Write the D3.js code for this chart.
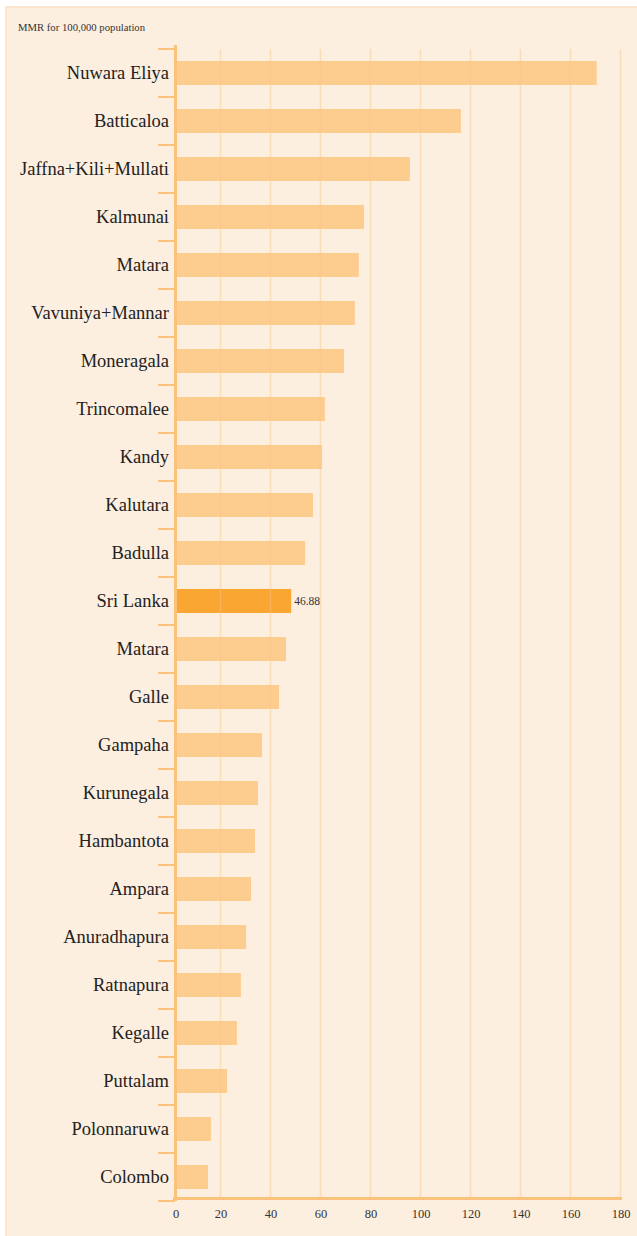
<!DOCTYPE html>
<html><head><meta charset="utf-8">
<script src="https://cdn.jsdelivr.net/npm/d3@7"></script>
<style>body{margin:0;background:#fff;}svg{display:block;}</style>
</head><body><svg id="c" width="637" height="1236"></svg>
<script>
const categories = ["Nuwara Eliya","Batticaloa","Jaffna+Kili+Mullati","Kalmunai","Matara","Vavuniya+Mannar","Moneragala","Trincomalee","Kandy","Kalutara","Badulla","Sri Lanka","Matara","Galle","Gampaha","Kurunegala","Hambantota","Ampara","Anuradhapura","Ratnapura","Kegalle","Puttalam","Polonnaruwa","Colombo"];
const values = [170.2,115.4,94.8,76.3,74.2,72.6,68.2,60.5,59.3,55.7,52.5,46.88,44.8,42.0,35.1,33.5,32.3,30.7,28.7,26.6,25.0,21.0,14.5,13.3];
const highlight = "Sri Lanka";
const xTicks = [0,20,40,60,80,100,120,140,160,180];
const title = "MMR for 100,000 population";

const svg = d3.select("#c");
const font = "'Liberation Serif', 'DejaVu Serif', serif";
svg.append("rect").attr("x",6).attr("y",7).attr("width",640).attr("height",1240)
  .attr("fill","#fdefe0").attr("stroke","#fbe0c2").attr("stroke-width",1.5);

// bar scale
const x = d3.scaleLinear().domain([0,180]).range([175,621]);
// grid / tick scale
const xg = d3.scaleLinear().domain([0,20,180]).range([175.5,220.5,620.5]);
const idx = categories.map((d,i)=>i);
const y = d3.scaleBand().domain(idx).range([49,1201]).paddingInner(0.5).paddingOuter(0.25);

svg.append("text").attr("x",18).attr("y",31).attr("font-family",font).attr("font-size",10.7)
  .attr("fill","#333").text(title);

// bars
svg.append("g").selectAll("rect").data(idx).join("rect")
  .attr("x",x(0)).attr("y",i=>y(i)).attr("height",y.bandwidth())
  .attr("width",i=>x(values[i])-x(0))
  .attr("fill",i=>categories[i]===highlight?"#f9a633":"#fdcd90");

// gridlines
svg.append("g").selectAll("line").data(xTicks.slice(1)).join("line")
  .attr("x1",d=>xg(d)).attr("x2",d=>xg(d)).attr("y1",49).attr("y2",1199)
  .attr("stroke","#fbc88a").attr("stroke-opacity",0.45).attr("stroke-width",1.5);

// value label
idx.filter(i=>categories[i]===highlight).forEach(i=>{
  svg.append("text").attr("x",x(values[i])+3).attr("y",y(i)+y.bandwidth()/2+4)
    .attr("font-family",font).attr("font-size",11.5).attr("fill","#333").text(values[i]);
});

// y axis ticks at band boundaries
const step = y.step();
const bounds = d3.range(categories.length+1).map(k=>49+k*step);
svg.append("g").selectAll("line").data(bounds).join("line")
  .attr("x1",158).attr("x2",175).attr("y1",d=>d).attr("y2",d=>d)
  .attr("stroke","#fbc27c").attr("stroke-width",2);
svg.append("line").attr("x1",175.5).attr("x2",175.5).attr("y1",45).attr("y2",1201)
  .attr("stroke","#fbc27c").attr("stroke-width",3);

// category labels
svg.append("g").selectAll("text").data(idx).join("text")
  .attr("x",169).attr("y",i=>y(i)+y.bandwidth()/2+6)
  .attr("text-anchor","end").attr("font-family",font).attr("font-size",18.5)
  .attr("fill","#222").text(i=>categories[i]);

// x axis
svg.append("line").attr("x1",173).attr("x2",622).attr("y1",1198.5).attr("y2",1198.5)
  .attr("stroke","#fbc27c").attr("stroke-width",3);
const xa = svg.append("g").attr("transform","translate(0,1198)")
  .call(d3.axisBottom(xg).tickValues(xTicks).tickFormat(d3.format("d")).tickSize(0).tickPadding(11));
xa.select(".domain").remove();
xa.selectAll("text").attr("font-family",font).attr("font-size",12.5).attr("fill","#333");
</script></body></html>
